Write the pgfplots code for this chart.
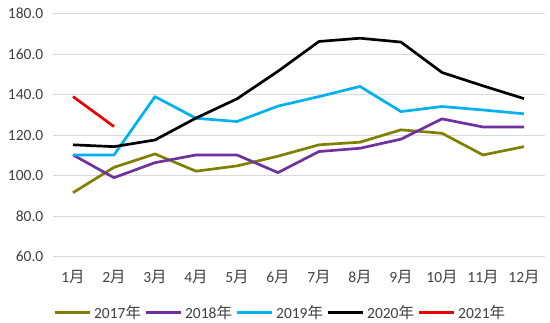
\documentclass[border=0pt]{standalone}
\usepackage{pgfplots}
\pgfplotsset{compat=1.18}
\usepackage{fontspec}
\setmainfont{Carlito}
\newfontfamily\cjk{Noto Sans CJK SC}
\definecolor{cOlive}{RGB}{128,128,0}
\definecolor{cPurple}{RGB}{112,48,160}
\definecolor{cCyan}{RGB}{0,176,240}
\definecolor{cRed}{RGB}{235,0,0}
\definecolor{cText}{RGB}{64,64,64}
\definecolor{cGrid}{RGB}{217,217,217}
\newcommand{\yue}{{\cjk 月}}
\newcommand{\nian}{{\cjk 年}}
\begin{document}
\begin{tikzpicture}
\path[use as bounding box] (-52.5bp,-66.3bp) rectangle (497.5bp,256.7bp);
\begin{axis}[
  at={(0,0)}, anchor=origin,
  scale only axis,
  width=492bp, height=243.2bp,
  xmin=0.5, xmax=12.5,
  ymin=60, ymax=180,
  ytick={60,80,...,180},
  xtick={1,...,12},
  xticklabels={1\yue,2\yue,3\yue,4\yue,5\yue,6\yue,7\yue,8\yue,9\yue,10\yue,11\yue,12\yue},
  axis line style={draw=none},
  major tick length=0pt,
  ymajorgrids,
  grid style={cGrid, line width=1bp},
  tick label style={font=\fontsize{15.5bp}{18bp}\selectfont, text=cText},
  /pgf/number format/assume math mode=true,
  yticklabel={\pgfmathprintnumber[fixed,fixed zerofill,precision=1]{\tick}},
  yticklabel style={anchor=east, inner sep=0pt, xshift=-9bp},
  xticklabel style={anchor=north, inner sep=0pt, yshift=-13bp},
  legend columns=-1,
  legend style={at={(0.001,-0.23)}, anchor=west, draw=none, fill=none, inner sep=0pt,
    font=\fontsize{15.5bp}{18bp}\selectfont, text=cText,
    nodes={inner sep=0pt},
    /tikz/every even column/.append style={column sep=3.2bp},
    /tikz/every odd column/.append style={column sep=3.2bp}},
  legend image code/.code={\draw[#1] (0bp,0bp) -- (35bp,0bp);},
  every axis plot/.append style={line width=2.7bp, line join=round},
]
\addplot[cOlive] coordinates {(1,91.6)(2,104.1)(3,110.7)(4,102.2)(5,104.8)(6,109.6)(7,115.2)(8,116.5)(9,122.6)(10,120.9)(11,110.2)(12,114.3)};
\addlegendentry{2017\nian}
\addplot[cPurple] coordinates {(1,110.2)(2,99.0)(3,106.4)(4,110.2)(5,110.2)(6,101.5)(7,111.9)(8,113.5)(9,118.0)(10,128.0)(11,124.0)(12,124.0)};
\addlegendentry{2018\nian}
\addplot[cCyan] coordinates {(1,110.2)(2,110.2)(3,139.0)(4,128.3)(5,126.7)(6,134.3)(7,139.0)(8,144.0)(9,131.6)(10,134.1)(11,132.4)(12,130.5)};
\addlegendentry{2019\nian}
\addplot[black] coordinates {(1,115.2)(2,114.3)(3,117.6)(4,128.4)(5,137.9)(6,151.5)(7,166.2)(8,167.8)(9,165.9)(10,150.9)(11,144.3)(12,138.0)};
\addlegendentry{2020\nian}
\addplot[cRed] coordinates {(1,139.0)(2,124.2)};
\addlegendentry{2021\nian}
\end{axis}
\end{tikzpicture}
\end{document}
